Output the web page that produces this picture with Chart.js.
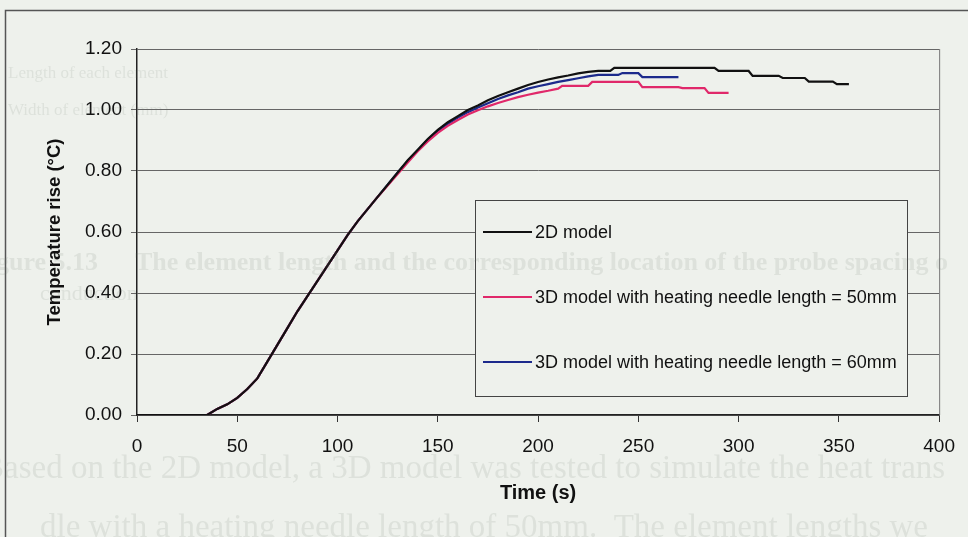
<!DOCTYPE html>
<html>
<head>
<meta charset="utf-8">
<script src="https://cdn.jsdelivr.net/npm/chart.js@4.4.1/dist/chart.umd.min.js"></script>
<style>
  html, body { margin: 0; padding: 0; background: #eef1ec; }
  canvas { display: block; }
</style>
</head>
<body>
<canvas id="chart" width="968" height="537"></canvas>
<script>
// time (s) and temperature rise (°C)
const t2d = [0, 30, 35, 40, 45, 50, 55, 60, 65, 70, 75, 80, 85, 90, 95, 100, 105, 110, 115, 120, 125, 130, 135, 140, 145, 150, 155, 160, 165, 170, 175, 180, 185, 190, 195, 200, 205, 210, 215, 220, 225, 230, 236, 238, 288, 290, 305, 307, 320, 322, 333, 335, 347, 349, 355];
const v2d = [0, 0, 0, 0.02, 0.035, 0.056, 0.085, 0.12, 0.175, 0.23, 0.285, 0.34, 0.39, 0.44, 0.49, 0.54, 0.59, 0.635, 0.675, 0.715, 0.755, 0.795, 0.835, 0.87, 0.905, 0.935, 0.96, 0.98, 1.0, 1.015, 1.032, 1.046, 1.058, 1.07, 1.082, 1.092, 1.1, 1.107, 1.113, 1.12, 1.125, 1.128, 1.128, 1.138, 1.138, 1.128, 1.128, 1.112, 1.112, 1.105, 1.105, 1.093, 1.093, 1.085, 1.085];

const t50 = [0, 30, 35, 40, 45, 50, 55, 60, 65, 70, 75, 80, 85, 90, 95, 100, 105, 110, 115, 120, 125, 130, 135, 140, 145, 150, 155, 160, 165, 170, 175, 180, 185, 190, 195, 200, 205, 210, 212, 225, 227, 250, 252, 270, 272, 283, 285, 295];
const v50 = [0, 0, 0, 0.02, 0.035, 0.056, 0.085, 0.12, 0.175, 0.23, 0.285, 0.34, 0.39, 0.44, 0.49, 0.54, 0.59, 0.635, 0.675, 0.715, 0.752, 0.79, 0.828, 0.865, 0.897, 0.925, 0.948, 0.967, 0.985, 0.999, 1.012, 1.023, 1.033, 1.042, 1.05, 1.057, 1.063, 1.07, 1.079, 1.079, 1.092, 1.092, 1.075, 1.075, 1.072, 1.072, 1.056, 1.056];

const t60 = [0, 30, 35, 40, 45, 50, 55, 60, 65, 70, 75, 80, 85, 90, 95, 100, 105, 110, 115, 120, 125, 130, 135, 140, 145, 150, 155, 160, 165, 170, 175, 180, 185, 190, 195, 200, 205, 210, 215, 220, 225, 230, 240, 242, 250, 252, 270];
const v60 = [0, 0, 0, 0.02, 0.035, 0.056, 0.085, 0.12, 0.175, 0.23, 0.285, 0.34, 0.39, 0.44, 0.49, 0.54, 0.59, 0.635, 0.675, 0.715, 0.755, 0.795, 0.833, 0.868, 0.903, 0.932, 0.955, 0.975, 0.993, 1.008, 1.022, 1.036, 1.048, 1.058, 1.07, 1.078, 1.085, 1.092, 1.098, 1.104, 1.11, 1.115, 1.115, 1.121, 1.121, 1.108, 1.108];

const seriesLabels = ['2D model', '3D model with heating needle length = 50mm', '3D model with heating needle length = 60mm'];
const xTicks = [0, 50, 100, 150, 200, 250, 300, 350, 400];
const yTicks = [0, 0.2, 0.4, 0.6, 0.8, 1.0, 1.2];

const toPoints = (ts, vs) => ts.map((t, i) => ({ x: t, y: vs[i] }));

const FONT = "'Liberation Sans', Arial, sans-serif";
const BG = '#eef1ec';

// faint show-through text from the scanned page
const bleed = [
  { text: 'Length of each element', x: 8, y: 78, size: 17, bold: false },
  { text: 'Width of element (mm)', x: 8, y: 115, size: 17, bold: false },
  { text: 'gure 5.13', x: -4, y: 270, size: 26, bold: true },
  { text: 'The element length and the corresponding location of the probe spacing o', x: 135, y: 270, size: 26, bold: true },
  { text: 'conduction', x: 40, y: 300, size: 22, bold: false },
  { text: 'Based on the 2D model, a 3D model was tested to simulate the heat trans', x: -18, y: 478, size: 33, bold: false },
  { text: 'dle with a heating needle length of 50mm.  The element lengths we', x: 40, y: 537, size: 33, bold: false }
];

const pagePlugin = {
  id: 'page',
  beforeDraw(chart) {
    const ctx = chart.ctx;
    ctx.save();
    ctx.fillStyle = BG;
    ctx.fillRect(0, 0, chart.width, chart.height);
    // outer chart frame
    ctx.strokeStyle = '#555';
    ctx.lineWidth = 1.5;
    ctx.beginPath();
    ctx.moveTo(968, 10.5);
    ctx.lineTo(5.5, 10.5);
    ctx.lineTo(5.5, 537);
    ctx.stroke();
    ctx.restore();
  },
  beforeDatasetsDraw(chart) {
    const { ctx, chartArea: a } = chart;
    ctx.save();
    ctx.strokeStyle = '#777';
    ctx.lineWidth = 1;
    ctx.beginPath();
    ctx.moveTo(a.right + 0.5, a.top);
    ctx.lineTo(a.right + 0.5, a.bottom);
    ctx.stroke();
    ctx.restore();
  }
};

const legendBoxPlugin = {
  id: 'legendBox',
  afterDraw(chart) {
    const ctx = chart.ctx;
    const box = { x: 475, y: 200, w: 432, h: 196 };
    const rows = [232, 297, 362];
    ctx.save();
    ctx.fillStyle = BG;
    ctx.fillRect(box.x, box.y, box.w, box.h);
    ctx.strokeStyle = '#444';
    ctx.lineWidth = 1;
    ctx.strokeRect(box.x + 0.5, box.y + 0.5, box.w, box.h);
    ctx.font = '18px ' + FONT;
    ctx.textBaseline = 'middle';
    ctx.fillStyle = '#111';
    chart.data.datasets.forEach((ds, i) => {
      const y = rows[i];
      ctx.strokeStyle = ds.borderColor;
      ctx.lineWidth = 2;
      ctx.beginPath();
      ctx.moveTo(483, y);
      ctx.lineTo(532, y);
      ctx.stroke();
      ctx.fillText(ds.label, 535, y + 1);
    });
    // show-through text lies over everything, very faint
    ctx.fillStyle = 'rgba(110,120,110,0.13)';
    ctx.textBaseline = 'alphabetic';
    bleed.forEach(b => {
      ctx.font = (b.bold ? 'bold ' : '') + b.size + "px 'Liberation Serif', 'Times New Roman', serif";
      ctx.fillText(b.text, b.x, b.y);
    });
    ctx.restore();
  }
};

new Chart(document.getElementById('chart'), {
  type: 'line',
  data: {
    datasets: [
      { label: seriesLabels[0], data: toPoints(t2d, v2d), borderColor: '#111111' },
      { label: seriesLabels[1], data: toPoints(t50, v50), borderColor: '#e0286a' },
      { label: seriesLabels[2], data: toPoints(t60, v60), borderColor: '#1c2a8c' }
    ]
  },
  options: {
    responsive: false,
    animation: false,
    layout: { padding: { left: 40, right: 28, top: 49, bottom: 28 } },
    elements: {
      line: { borderWidth: 2.2, tension: 0, fill: false },
      point: { radius: 0 }
    },
    plugins: {
      legend: { display: false },
      tooltip: { enabled: false }
    },
    scales: {
      x: {
        type: 'linear',
        min: 0,
        max: 400,
        afterFit: s => { s.height = 94; },
        afterBuildTicks: s => { s.ticks = xTicks.map(v => ({ value: v })); },
        ticks: { color: '#111', font: { family: FONT, size: 19 }, padding: 13, maxRotation: 0 },
        grid: { drawOnChartArea: false, tickLength: 7, color: '#333' },
        border: { color: '#222', width: 1.5 },
        title: { display: true, text: 'Time (s)', color: '#111', font: { family: FONT, size: 20, weight: 'bold' } }
      },
      y: {
        min: 0,
        max: 1.2,
        afterFit: s => { s.width = 97; },
        afterBuildTicks: s => { s.ticks = yTicks.map(v => ({ value: v })); },
        ticks: { color: '#111', font: { family: FONT, size: 19 }, padding: 9, callback: v => Number(v).toFixed(2) },
        grid: { color: '#666', lineWidth: 1, tickLength: 6 },
        border: { color: '#222', width: 1.5 },
        title: { display: true, text: 'Temperature rise (°C)', color: '#111', font: { family: FONT, size: 18.5, weight: 'bold' } }
      }
    }
  },
  plugins: [pagePlugin, legendBoxPlugin]
});
</script>
</body>
</html>
